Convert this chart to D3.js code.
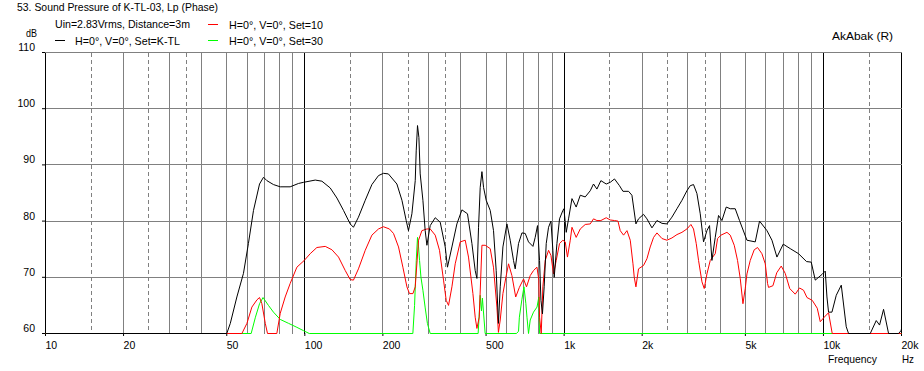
<!DOCTYPE html>
<html>
<head>
<meta charset="utf-8">
<script src="https://cdn.jsdelivr.net/npm/d3@7"></script>
<style>
  body { margin: 0; background: #fff; }
  svg text { font-family: "Liberation Sans", Arial, sans-serif; font-size: 11px; fill: #000; }
  svg .tick text { font-size: 10.5px; }
</style>
</head>
<body>
<svg width="924" height="371"></svg>
<script>
// axis values
const xTickValues = [10, 20, 50, 100, 200, 500, 1000, 2000, 5000, 10000, 20000];
const xTickLabels = ["10", "20", "50", "100", "200", "500", "1k", "2k", "5k", "10k", "20k"];
const yTickValues = [60, 70, 80, 90, 100, 110];
const decades = [10, 100, 1000, 10000];
const solidSteps = [2, 3, 4, 5, 6, 7, 8, 9];
const dashedSteps = [1.5, 2.5, 3.5];

// [Hz, dB]
const kTL = [[10,60],[50,60],[51.6,61.8],[54.7,66.5],[58,70.7],[60.6,76],[63.4,81.9],[66.9,86.6],[69.3,87.8],[71.4,87.2],[75.7,86.5],[80.4,86.1],[87.8,86.1],[94.6,86.7],[98.9,86.9],[109.7,87.3],[116.4,87.1],[125.3,85.9],[133,84.1],[141,81.9],[149.6,79.5],[154,78.9],[161,80.7],[171,83.7],[181.4,86.5],[192.4,88.1],[201,88.5],[210,88.4],[226.5,86.6],[236.9,83.7],[246,80.1],[251,78.3],[258.8,81.3],[266.6,87.2],[268.9,92.5],[272,97.0],[275.4,94.9],[278.6,88.4],[285.4,83.7],[291.2,78.3],[295.7,75.7],[304.5,79.2],[318.3,80.6],[332.8,79.8],[347.9,75.4],[354.9,71.8],[369.2,75.4],[385.9,79.5],[403.5,82.0],[424,81.3],[441,76.0],[454,71.2],[461,69.8],[467.7,78.9],[474.7,86.0],[482,88.8],[489,86.0],[500.6,83.7],[518.8,81.9],[534.2,78.3],[547,71.2],[558,61.8],[567,68.3],[580.7,75.4],[601.7,79.5],[619.6,76.6],[638,73.0],[647.6,71.5],[667,76.0],[687.5,77.9],[707.9,77.8],[729,76.3],[758,75.5],[773.5,77.1],[789.5,79.2],[804,73.0],[814,65.9],[825,63.5],[837.6,68.3],[853,76.0],[870.8,78.9],[889.5,80.0],[905,74.8],[915.7,70.0],[938,76.0],[960,80.4],[989,81.9],[998,82.2],[1019,78.0],[1040,80.4],[1072,84.0],[1113,82.5],[1154,84.6],[1206,84.3],[1261,85.4],[1298,86.6],[1338,85.7],[1386,87.2],[1453,86.6],[1506,86.9],[1564,87.5],[1635,86.3],[1686,85.3],[1772,85.3],[1826,84.6],[1892,79.5],[1936,80.4],[2024,81.2],[2086,80.4],[2181,78.8],[2280,80.1],[2384,79.6],[2491,79.5],[2604,80.7],[2723,82.2],[2847,83.7],[2975,85.4],[3064,86.3],[3155,86.5],[3252,84.9],[3349,81.3],[3449,76.3],[3554,78.3],[3637,79.2],[3715,73.0],[3826,77.1],[3940,81.0],[4060,80.1],[4218,82.5],[4371,82.2],[4569,82.2],[4746,80.1],[5070,76.6],[5458,76.3],[5670,80.0],[6056,78.3],[6330,76.6],[6617,73.6],[6998,75.9],[7447,75.1],[8017,74.2],[8607,72.8],[8974,72.7],[9299,69.5],[9867,70.5],[10162,71.1],[10316,66.5],[10464,63.8],[10785,63.8],[11205,66.8],[11716,68.6],[12245,61.2],[12499,60],[15155,60],[15982,62.3],[16460,61.5],[17054,64.3],[17830,60],[19486,60],[19907,60.5],[20000,60.8]];

const set10 = [[10,60],[57.2,60],[59.8,61.8],[62.5,64.7],[65.4,66.0],[66.9,66.4],[68.3,65.3],[70.4,61.8],[71.8,60],[78,60],[80.4,63.6],[84,66.5],[87.8,68.9],[93.2,71.8],[99.5,73.0],[104.9,74.2],[111.3,75.3],[119.9,75.5],[127.2,74.9],[134.9,73.6],[143.2,71.2],[149.6,69.6],[154,69.5],[161,71.5],[171,74.8],[181.4,77.5],[192.4,78.6],[201,79.0],[212,78.6],[219.8,77.8],[229.8,75.4],[238.9,71.8],[247.6,68.3],[253.3,67.1],[261.2,67.1],[266.6,68.3],[274.5,76.6],[282.8,78.3],[295.7,78.6],[304.5,78.6],[318.3,77.5],[330.7,74.8],[342.7,69.5],[351,65.9],[358.3,65.0],[369.2,68.3],[380.2,72.4],[397.5,76.3],[415.5,76.6],[427.8,73.6],[444.9,67.1],[454,62.9],[461,60.9],[470.6,62.9],[482,75.7],[496.2,75.7],[518.8,75.1],[534,71.8],[550.6,64.7],[558,60.2],[567,62.4],[580.7,67.1],[598,70.3],[610.4,72.4],[629,70.3],[650.5,66.5],[672,68.2],[697.4,69.7],[716,68.3],[740,70.3],[762,71.2],[785.6,71.8],[799,69.5],[804,62.9],[816,60],[828,68.3],[845.6,73.0],[871,74.8],[889.5,73.9],[910,70.6],[932.3,73.0],[960,76.0],[989,76.6],[1010,76.3],[1030,73.6],[1056,76.6],[1072,78.9],[1113,77.1],[1154,78.6],[1206,79.4],[1261,79.5],[1298,80.4],[1338,80.1],[1386,80.1],[1453,80.6],[1506,80.2],[1564,80.1],[1613,80.0],[1646,78.3],[1695,77.5],[1747,78.3],[1799,76.6],[1843,72.4],[1864,70.0],[1892,68.3],[1936,71.5],[2024,72.1],[2086,73.3],[2148,75.4],[2213,77.1],[2280,77.9],[2384,76.9],[2491,76.6],[2604,77.0],[2723,77.6],[2847,78.0],[2975,78.6],[3083,79.4],[3155,78.6],[3232,76.0],[3299,73.0],[3400,69.2],[3470,68.0],[3554,70.6],[3660,73.0],[3826,74.2],[3906,76.9],[4026,77.5],[4245,78.0],[4371,77.5],[4529,75.7],[4664,73.0],[4777,69.8],[4893,65.3],[4994,68.0],[5070,70.6],[5221,73.0],[5409,74.9],[5570,75.3],[5791,74.2],[5965,72.4],[6088,68.9],[6142,68.2],[6386,68.5],[6605,70.8],[6875,72.0],[7123,70.7],[7413,68.0],[7785,67.0],[8087,68.1],[8380,67.7],[8640,66.4],[9054,65.9],[9465,64.5],[9721,62.1],[10072,62.9],[10464,63.7],[10812,60],[20000,60]];

const set30 = [[10,60],[62.1,60],[64.5,62.9],[66.9,65.3],[69,66.4],[72.4,65.0],[75.7,63.8],[80.4,62.5],[86.6,61.8],[93.2,61.1],[98.9,60.5],[104,60],[261,60],[265,65],[269,73],[272,77.1],[274.5,75.4],[277,73],[280.5,70.0],[285.4,67.7],[291,64.7],[297,61.8],[304.5,60],[466,60],[470,63],[474.7,66.8],[480,64],[484,66.3],[496,60],[655,60],[667,60.4],[672,62.9],[687,66],[700,68.3],[712,65.3],[719,62.9],[729,60],[740,62.4],[762,63.8],[786,64.7],[799,66.5],[804,60],[20000,60]];

const series = [
  { name: "H=0°, V=0°, Set=K-TL", color: "#000000", data: kTL },
  { name: "H=0°, V=0°, Set=10", color: "#ff0000", data: set10 },
  { name: "H=0°, V=0°, Set=30", color: "#00ff00", data: set30 }
];

const svg = d3.select("svg");
const x = d3.scaleLog().domain([10, 20000]).range([45, 901]);
const y = d3.scaleLinear().domain([60, 110]).range([333, 52]);
const px = v => Math.round(v) + 0.5;

// grid
const grid = svg.append("g").attr("shape-rendering", "crispEdges");
const vLine = (f, color, dash) => grid.append("line")
  .attr("x1", px(x(f))).attr("x2", px(x(f)))
  .attr("y1", px(y(110))).attr("y2", px(y(60)))
  .attr("stroke", color).attr("stroke-dasharray", dash);

decades.forEach(d => {
  dashedSteps.forEach(s => { if (d * s <= 20000) vLine(d * s, "#808080", "4,3"); });
  solidSteps.forEach(s => { if (d * s < 20000) vLine(d * s, "#808080", null); });
  if (d > 10) vLine(d, "#000", null);
});
vLine(20000, "#000", null);

grid.selectAll(".hgrid")
  .data(yTickValues.filter(v => v > 60))
  .enter().append("line")
  .attr("x1", px(x(10))).attr("x2", px(x(20000)))
  .attr("y1", d => px(y(d))).attr("y2", d => px(y(d)))
  .attr("stroke", "#808080");

// axes (bottom domain left out: the curves at the 60 dB floor draw that edge)
const xAxis = svg.append("g")
  .attr("transform", `translate(0,${y(60)})`)
  .call(d3.axisBottom(x).tickValues(xTickValues)
    .tickFormat((d, i) => xTickLabels[i]).tickSize(3).tickSizeOuter(0));
xAxis.select(".domain").remove();
xAxis.selectAll("text").attr("text-anchor", "start").attr("x", 0).attr("y", 15.5).attr("dy", null);

const yAxis = svg.append("g")
  .attr("transform", `translate(${x(10)},0)`)
  .call(d3.axisLeft(y).tickValues(yTickValues).tickSize(3).tickSizeOuter(0));
yAxis.selectAll("text").attr("x", -10).attr("y", -1.5).attr("dy", null);
svg.selectAll(".domain, .tick line").attr("stroke", "#000");

// curves, green first so black ends up on top
const line = d3.line().x(d => x(d[0])).y(d => y(d[1]));
svg.append("g").attr("transform", "translate(0.5,0.5)")
  .selectAll("path")
  .data(series.slice().reverse())
  .enter().append("path")
  .attr("d", d => line(d.data))
  .attr("fill", "none")
  .attr("stroke", d => d.color)
  .attr("stroke-width", 1);

// texts
const label = (tx, ty, str, w, anchor) => svg.append("text")
  .attr("x", tx).attr("y", ty)
  .attr("text-anchor", anchor || "start")
  .attr("textLength", w).attr("lengthAdjust", "spacingAndGlyphs")
  .text(str);
label(17, 11, "53. Sound Pressure of K-TL-03, Lp (Phase)", 201);
label(55, 28, "Uin=2.83Vrms, Distance=3m", 135);
label(37, 37, "dB", 11, "end");
label(832, 40, "AkAbak (R)", 61);
label(828, 363, "Frequency", 49);
label(902, 363, "Hz", 12);

// legend
const legendPos = [[55, 40.5], [208, 24.5], [208, 40.5]];
const legendTextW = [105, 94, 94];
const legend = svg.append("g").selectAll("g")
  .data(series)
  .enter().append("g")
  .attr("transform", (d, i) => `translate(${legendPos[i][0]},${legendPos[i][1]})`);
legend.append("line")
  .attr("x1", 0).attr("x2", 10)
  .attr("stroke", d => d.color).attr("shape-rendering", "crispEdges");
legend.append("text")
  .attr("x", (d, i) => i === 0 ? 20 : 21).attr("y", 4.5)
  .attr("textLength", (d, i) => legendTextW[i]).attr("lengthAdjust", "spacingAndGlyphs")
  .text(d => d.name);
</script>
</body>
</html>
